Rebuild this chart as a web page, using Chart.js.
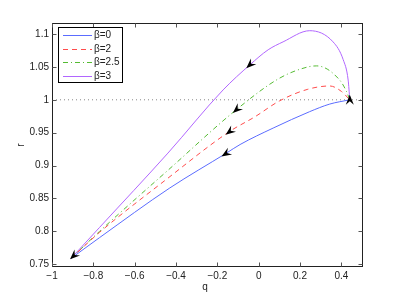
<!DOCTYPE html>
<html lang="en">
<head>
<meta charset="UTF-8" />
<title>r versus q</title>
<script src="https://cdn.jsdelivr.net/npm/chart.js"></script>
<style>
  html, body { margin: 0; padding: 0; background: #fff; }
</style>
</head>
<body>
<canvas id="chart" width="399" height="300"></canvas>
<script>
  // values
  const xTicks = [-1, -0.8, -0.6, -0.4, -0.2, 0, 0.2, 0.4];
  const yTicks = [0.75, 0.8, 0.85, 0.9, 0.95, 1, 1.05, 1.1];

  const qBeta0 = [-0.908, -0.77, -0.43, -0.156, -0.09, 0.07, 0.247, 0.344, 0.441];
  const rBeta0 = [0.759, 0.7905, 0.866, 0.919, 0.932, 0.957, 0.982, 0.9935, 1.0];

  const qBeta2 = [-0.908, -0.77, -0.455, -0.14, -0.019, 0.102, 0.238, 0.344, 0.401, 0.441];
  const rBeta2 = [0.759, 0.7985, 0.877, 0.952, 0.974, 0.9985, 1.016, 1.021, 1.0126, 1.0];

  const qBeta25 = [-0.908, -0.77, -0.435, -0.1, 0.102, 0.239, 0.281, 0.392, 0.425, 0.441];
  const rBeta25 = [0.759, 0.800, 0.894, 0.987, 1.033, 1.050, 1.0515, 1.030, 1.0126, 1.0];

  const qBeta3 = [-0.908, -0.77, -0.439, -0.172, -0.043, 0.046, 0.118, 0.247, 0.36, 0.409, 0.433, 0.441];
  const rBeta3 = [0.759, 0.806, 0.919, 1.015, 1.053, 1.076, 1.088, 1.105, 1.088, 1.061, 1.030, 1.0];

  // arrow heads along the curves (tips), one per series
  const arrowQ = [-0.18, -0.16, -0.125, -0.06];
  const arrowR = [0.914, 0.947, 0.980, 1.048];

  const refQ = [-1, 0.5];
  const refR = [1, 1];

  const pts = (qs, rs) => qs.map((q, i) => ({ x: q, y: rs[i] }));

  Chart.defaults.font.family = '"Liberation Sans", Arial, sans-serif';
  Chart.defaults.font.size = 10;
  Chart.defaults.color = '#222';

  const curve = (label, qs, rs, color, dash) => ({
    label: label,
    data: pts(qs, rs),
    borderColor: color,
    borderWidth: 1,
    borderDash: dash,
    pointRadius: 0,
    fill: false,
    cubicInterpolationMode: 'monotone',
    inLegend: true
  });

  const datasets = [
    curve('β=0', qBeta0, rBeta0, '#5b6cff', []),
    curve('β=2', qBeta2, rBeta2, '#ff4b4b', [5, 4]),
    curve('β=2.5', qBeta25, rBeta25, '#55bb33', [5, 3, 1, 3]),
    curve('β=3', qBeta3, rBeta3, '#b166ff', []),
    {
      label: 'r=1',
      data: pts(refQ, refR),
      borderColor: '#888',
      borderWidth: 1,
      borderDash: [1, 3],
      pointRadius: 0,
      fill: false,
      inLegend: false
    }
  ];

  function arrowHead(ctx, tx, ty, dx, dy) {
    const len = 10, wid = 8;
    const n = Math.hypot(dx, dy);
    dx /= n; dy /= n;
    const nx = -dy, ny = dx;
    ctx.beginPath();
    ctx.moveTo(tx, ty);
    ctx.lineTo(tx - dx * len + nx * wid / 2, ty - dy * len + ny * wid / 2);
    ctx.lineTo(tx - dx * len * 0.65, ty - dy * len * 0.65);
    ctx.lineTo(tx - dx * len - nx * wid / 2, ty - dy * len - ny * wid / 2);
    ctx.closePath();
    ctx.fill();
  }

  const framePlugin = {
    id: 'frame',
    afterDraw(chart) {
      const ctx = chart.ctx;
      const a = chart.chartArea;
      const xs = chart.scales.x, ys = chart.scales.y;
      const L = Math.round(a.left) + 0.5, R = Math.round(a.right) + 0.5;
      const T = Math.round(a.top) + 0.5, B = Math.round(a.bottom) + 0.5;
      ctx.save();

      // arrows
      ctx.fillStyle = '#000';
      const series = [[qBeta0, rBeta0], [qBeta2, rBeta2], [qBeta25, rBeta25], [qBeta3, rBeta3]];
      series.forEach(([qs, rs], k) => {
        const aq = arrowQ[k];
        let i = 0;
        while (i < qs.length - 2 && qs[i + 1] < aq) i++;
        const dx = xs.getPixelForValue(qs[i]) - xs.getPixelForValue(qs[i + 1]);
        const dy = ys.getPixelForValue(rs[i]) - ys.getPixelForValue(rs[i + 1]);
        arrowHead(ctx, xs.getPixelForValue(aq), ys.getPixelForValue(arrowR[k]), dx, dy);
      });
      // start of the curves
      const sx = xs.getPixelForValue(qBeta25[0]), sy = ys.getPixelForValue(rBeta25[0]);
      arrowHead(ctx, sx - 1, sy + 1,
        sx - xs.getPixelForValue(qBeta25[1]), sy - ys.getPixelForValue(rBeta25[1]));
      // end point
      const ex = xs.getPixelForValue(qBeta0[qBeta0.length - 1]);
      const ey = ys.getPixelForValue(rBeta0[rBeta0.length - 1]);
      arrowHead(ctx, ex, ey - 5, 0, -1);

      // box and inward ticks
      ctx.strokeStyle = '#222';
      ctx.lineWidth = 1;
      ctx.strokeRect(L, T, R - L, B - T);
      ctx.strokeStyle = '#555';
      ctx.beginPath();
      xTicks.forEach(v => {
        const x = Math.round(xs.getPixelForValue(v)) + 0.5;
        ctx.moveTo(x, B); ctx.lineTo(x, B - 4);
        ctx.moveTo(x, T); ctx.lineTo(x, T + 4);
      });
      yTicks.forEach(v => {
        const y = Math.round(ys.getPixelForValue(v)) + 0.5;
        ctx.moveTo(L, y); ctx.lineTo(L + 4, y);
        ctx.moveTo(R, y); ctx.lineTo(R - 4, y);
      });
      ctx.stroke();

      // axis titles
      ctx.fillStyle = '#222';
      ctx.font = '10px "Liberation Sans", Arial, sans-serif';
      ctx.textAlign = 'center';
      ctx.textBaseline = 'middle';
      ctx.fillText('q', (a.left + a.right) / 2 - 2, 287);
      ctx.save();
      ctx.translate(21, 145);
      ctx.rotate(-Math.PI / 2);
      ctx.fillText('r', 0, 0);
      ctx.restore();

      // legend
      const bx = 58.5, by = 27.5, bw = 64, bh = 55;
      ctx.fillStyle = '#fff';
      ctx.fillRect(bx, by, bw, bh);
      ctx.strokeStyle = '#000';
      ctx.strokeRect(bx, by, bw, bh);
      ctx.textAlign = 'left';
      let row = 0;
      chart.data.datasets.forEach(ds => {
        if (!ds.inLegend) return;
        const y = Math.round(by + 7.5 + row * 13.6) + 0.5;
        ctx.strokeStyle = ds.borderColor;
        ctx.setLineDash(ds.borderDash || []);
        ctx.beginPath();
        ctx.moveTo(63, y); ctx.lineTo(92, y);
        ctx.stroke();
        ctx.setLineDash([]);
        ctx.fillStyle = '#222';
        ctx.fillText(ds.label, 94, y);
        row++;
      });
      ctx.restore();
    }
  };

  new Chart(document.getElementById('chart'), {
    type: 'line',
    data: { datasets: datasets },
    options: {
      responsive: false,
      animation: false,
      layout: { padding: { top: 23, right: 37, left: 0, bottom: 0 } },
      plugins: {
        legend: { display: false },
        tooltip: { enabled: false }
      },
      scales: {
        x: {
          type: 'linear',
          min: -1,
          max: 0.5,
          afterBuildTicks: s => { s.ticks = xTicks.map(v => ({ value: v })); },
          afterFit: s => { s.height = 34; },
          grid: { display: false, drawTicks: false },
          border: { display: false },
          ticks: {
            padding: 4,
            maxRotation: 0,
            autoSkip: false,
            color: '#222',
            callback: v => v < 0 ? '\u2212' + Math.abs(+v.toFixed(2)) : String(+v.toFixed(2))
          }
        },
        y: {
          type: 'linear',
          min: 0.7474,
          max: 1.1167,
          afterBuildTicks: s => { s.ticks = yTicks.map(v => ({ value: v })); },
          afterFit: s => { s.width = 52; },
          grid: { display: false, drawTicks: false },
          border: { display: false },
          ticks: {
            padding: 3,
            autoSkip: false,
            color: '#222',
            callback: v => String(+v.toFixed(2))
          }
        }
      }
    },
    plugins: [framePlugin]
  });
</script>
</body>
</html>
